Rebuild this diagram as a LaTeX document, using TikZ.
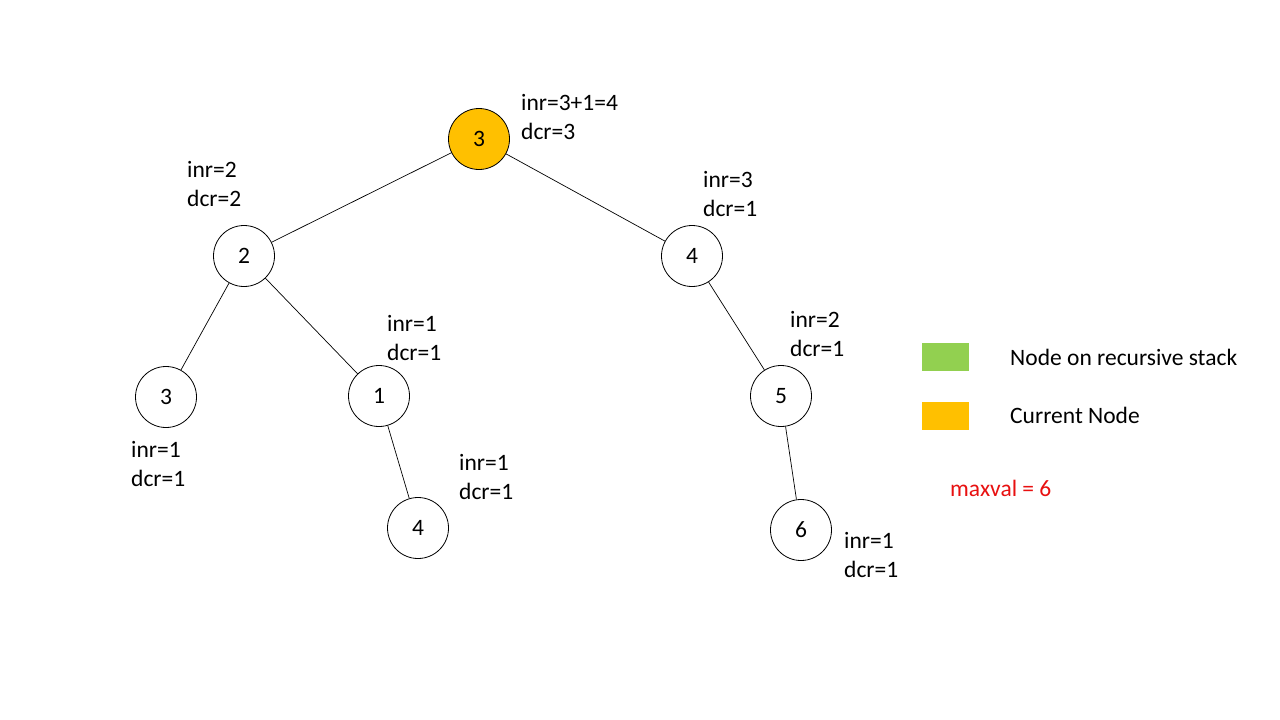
\documentclass[tikz,border=0pt]{standalone}
\usepackage{fontspec}
\setmainfont{Carlito}
\definecolor{curorange}{HTML}{FFC000}
\definecolor{stackgreen}{HTML}{92D050}
\definecolor{maxred}{HTML}{E81010}
\begin{document}
\begin{tikzpicture}[x=1pt,y=-1pt,
  treenode/.style={circle,draw=black,line width=0.8pt,minimum size=61pt,inner sep=0pt,font=\fontsize{23.5}{26}\selectfont},
  vals/.style={anchor=west,align=left,inner sep=0pt,font=\fontsize{23.5}{28.5}\selectfont},
  edge/.style={line width=0.7pt},
  swatch/.style={minimum width=47pt,minimum height=28pt,inner sep=0pt}]
\useasboundingbox[fill=white] (0,0) rectangle (1280,720);

% tree nodes
\node[treenode,fill=curorange] (r)  at (479,139) {3};
\node[treenode] (a)  at (244,256) {2};
\node[treenode] (b)  at (692,256) {4};
\node[treenode] (aa) at (166,397) {3};
\node[treenode] (ab) at (379,396) {1};
\node[treenode] (ba) at (781,396) {5};
\node[treenode] (abb) at (418,528) {4};
\node[treenode] (bab) at (801,530) {6};

% edges
\draw[edge] (r) -- (a);
\draw[edge] (r) -- (b);
\draw[edge] (a) -- (aa);
\draw[edge] (a) -- (ab);
\draw[edge] (b) -- (ba);
\draw[edge] (ab) -- (abb);
\draw[edge] (ba) -- (bab);

% counters beside each node
\node[vals] (lr)   at (521,117) {inr=3+1=4\\dcr=3};
\node[vals] (la)   at (187,184) {inr=2\\dcr=2};
\node[vals] (lb)   at (703,194) {inr=3\\dcr=1};
\node[vals] (lab)  at (387,338) {inr=1\\dcr=1};
\node[vals] (lba)  at (790,334) {inr=2\\dcr=1};
\node[vals] (laa)  at (131,464) {inr=1\\dcr=1};
\node[vals] (labb) at (459,477) {inr=1\\dcr=1};
\node[vals] (lbab) at (844,555) {inr=1\\dcr=1};

% legend
\node[swatch,fill=stackgreen] (g) at (945.5,357) {};
\node[swatch,fill=curorange]  (o) at (945.5,415.5) {};
\node[vals] (gt) at (1010,357) {Node on recursive stack};
\node[vals] (ot) at (1010,415.5) {Current Node};
\node[vals,text=maxred] (mv) at (950,488) {maxval = 6};
\end{tikzpicture}
\end{document}
